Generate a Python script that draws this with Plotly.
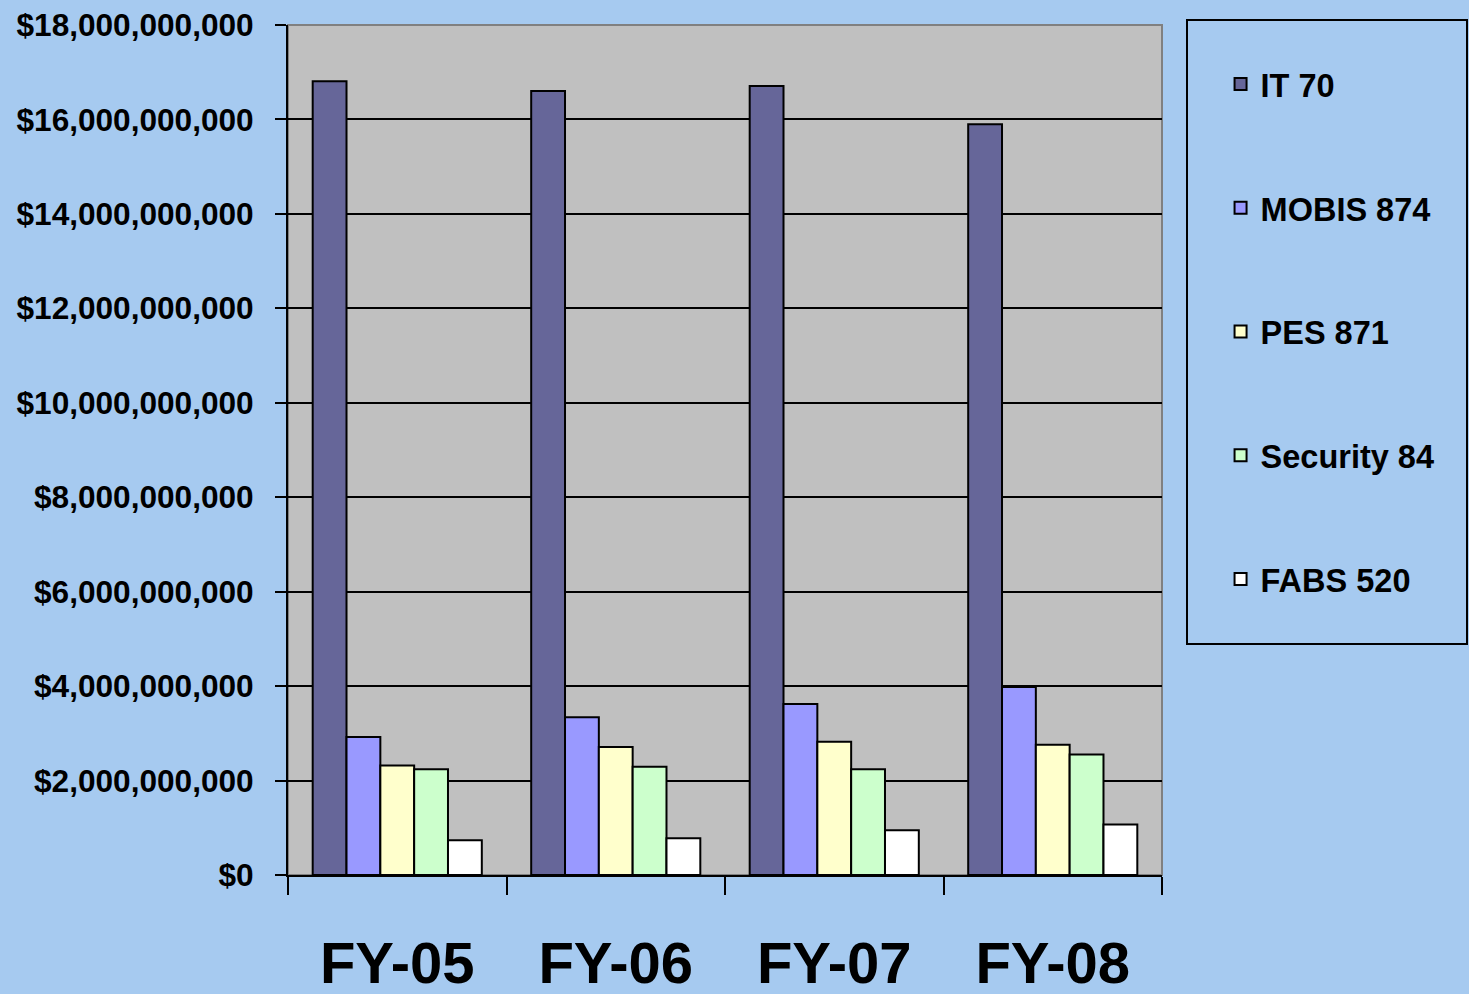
import plotly.graph_objects as go

categories = ["FY-05", "FY-06", "FY-07", "FY-08"]
series_names = ["IT 70", "MOBIS 874", "PES 871", "Security 84", "FABS 520"]
it_70 = [16.81e9, 16.60e9, 16.71e9, 15.90e9]
mobis_874 = [2.92e9, 3.34e9, 3.62e9, 3.98e9]
pes_871 = [2.32e9, 2.71e9, 2.82e9, 2.76e9]
security_84 = [2.24e9, 2.29e9, 2.24e9, 2.55e9]
fabs_520 = [0.735e9, 0.78e9, 0.95e9, 1.07e9]
y_ticks = [0, 2e9, 4e9, 6e9, 8e9, 10e9, 12e9, 14e9, 16e9, 18e9]
y_tick_labels = ["$" + format(int(v), ",") for v in y_ticks]

series_values = [it_70, mobis_874, pes_871, security_84, fabs_520]
colors = ["#666699", "#9999FF", "#FFFFCC", "#CCFFCC", "#FFFFFF"]

BG = "#A6CAF0"
FONT = "Liberation Sans, Arial, sans-serif"

fig = go.Figure()
for i, (name, vals, col) in enumerate(zip(series_names, series_values, colors)):
    fig.add_trace(go.Bar(
        x=categories, y=vals, name=name,
        marker=dict(color=col, line=dict(color="#000000", width=2)),
        legendgroup=f"g{i}",
    ))

fig.update_layout(
    width=1469, height=994,
    margin=dict(l=288, r=307, t=25, b=119, autoexpand=False),
    paper_bgcolor=BG, plot_bgcolor="#C0C0C0",
    barmode="group", bargap=0.226, bargroupgap=0,
    font=dict(family=FONT, color="#000000", size=31, weight="bold"),
    showlegend=True,
    legend=dict(
        x=1.067, y=0.963, xanchor="left", yanchor="top",
        bgcolor="rgba(0,0,0,0)", borderwidth=0,
        font=dict(family=FONT, size=32.5, color="#000000", weight="bold"),
        tracegroupgap=78.5, itemsizing="constant",
    ),
    shapes=[
        dict(type="rect", xref="paper", yref="paper", x0=0, x1=1, y0=0, y1=1,
             line=dict(color="#808080", width=2), layer="below"),
        dict(type="rect", xref="paper", yref="paper",
             x0=(1187 - 288) / 874, x1=(1467 - 288) / 874,
             y0=(875 - 644) / 850, y1=(875 - 20) / 850,
             line=dict(color="#000000", width=2), fillcolor="rgba(0,0,0,0)"),
    ],
)

fig.update_xaxes(
    type="category", tickson="boundaries",
    ticks="outside", ticklen=18, tickwidth=2, tickcolor="#000000",
    showline=True, linecolor="#000000", linewidth=2,
    showgrid=False, ticklabelstandoff=36,
    tickfont=dict(family=FONT, size=58, color="#000000", weight="bold"),
)
fig.update_yaxes(
    range=[0, 18e9], tickvals=y_ticks, ticktext=y_tick_labels,
    ticks="outside", ticklen=11, tickwidth=2, tickcolor="#000000",
    showline=True, linecolor="#000000", linewidth=2,
    showgrid=True, gridcolor="#000000", gridwidth=2,
    zeroline=False, ticklabelstandoff=15,
    tickfont=dict(family=FONT, size=31.6, color="#000000", weight="bold"),
)

fig.write_html(
    "out.html",
    config={"displayModeBar": False},
    post_script="document.body.style.margin='0';document.body.style.padding='0';",
)
